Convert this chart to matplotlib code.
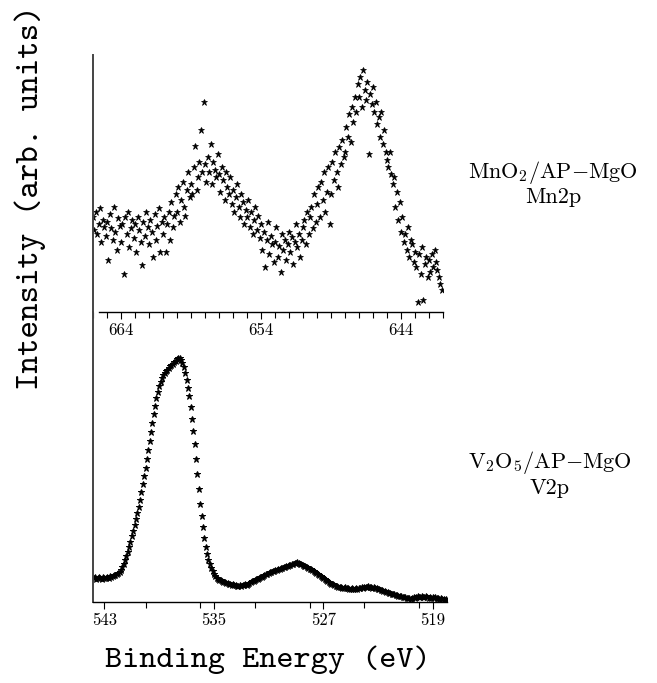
import numpy as np
import matplotlib
matplotlib.use("Agg")
import matplotlib.pyplot as plt
from matplotlib.ticker import FixedLocator, MultipleLocator

plt.rcParams['font.family'] = 'serif'
plt.rcParams['font.serif'] = ['cmr10', 'DejaVu Serif']
plt.rcParams['mathtext.fontset'] = 'cm'

# Mn2p spectrum, 666.0 -> 641.1 eV in 0.1 eV steps (arb. units)
mn_start, mn_end = 666.0, 641.1
mn_counts = [
    95, 82, 100, 78, 88, 104, 70, 92, 85, 76,
    90, 52, 98, 84, 72, 105, 80, 62, 94, 86,
    70, 88, 38, 95, 78, 100, 65, 84, 92, 74,
    88, 60, 95, 82, 70, 47, 90, 76, 100, 85,
    68, 92, 80, 55, 98, 72, 86, 104, 60, 90,
    78, 95, 60, 88, 100, 72, 110, 85, 96, 118,
    100, 125, 90, 112, 130, 105, 96, 122, 140, 115,
    128, 118, 145, 166, 122, 135, 150, 182, 140, 210,
    148, 130, 155, 140, 168, 128, 150, 142, 135, 158,
    138, 120, 145, 132, 112, 140, 125, 118, 135, 108,
    122, 100, 115, 128, 105, 95, 118, 110, 88, 102,
    95, 112, 85, 100, 78, 92, 105, 82, 96, 74,
    88, 62, 80, 45, 72, 90, 58, 76, 68, 50,
    70, 85, 55, 66, 40, 78, 62, 72, 52, 68,
    80, 60, 75, 48, 70, 88, 65, 78, 55, 72,
    85, 92, 68, 100, 78, 95, 105, 84, 118, 90,
    108, 125, 95, 130, 112, 140, 100, 120, 145, 88,
    118, 150, 132, 160, 140, 125, 165, 148, 172, 155,
    160, 185, 175, 198, 170, 205, 190, 215, 200, 228,
    215, 235, 205, 242, 222, 212, 230, 158, 218, 208,
    225, 200, 210, 188, 195, 175, 200, 168, 182, 160,
    152, 145, 160, 138, 128, 135, 105, 120, 92, 110,
    80, 95, 70, 78, 62, 85, 55, 72, 68, 50,
    60, 45, 10, 58, 38, 65, 12, 48, 55, 35,
    52, 40, 58, 45, 62, 50, 42, 35, 28, 22,
]

# V2p / O1s region, 543.8 -> 518.0 eV in 0.1 eV steps (arb. units)
v_start, v_end = 543.8, 518.0
v_counts = [
    24, 25, 23, 24, 25, 24, 23, 25, 24, 24,
    25, 24, 26, 25, 26, 27, 27, 28, 29, 30,
    32, 35, 38, 42, 46, 50, 55, 60, 66, 71,
    77, 83, 89, 95, 102, 110, 118, 126, 134, 143,
    152, 161, 170, 179, 188, 196, 204, 210, 216, 220,
    224, 227, 229, 231, 232, 234, 236, 237, 238, 240,
    241, 243, 244, 244, 242, 239, 235, 229, 222, 214,
    206, 195, 183, 171, 158, 143, 128, 113, 98, 86,
    75, 64, 55, 48, 42, 38, 34, 31, 28, 26,
    24, 23, 22, 22, 21, 20, 20, 19, 19, 18,
    18, 17, 18, 17, 17, 16, 16, 17, 16, 17,
    17, 18, 17, 18, 19, 20, 21, 21, 22, 23,
    23, 24, 25, 25, 26, 27, 28, 28, 29, 30,
    30, 31, 31, 32, 32, 33, 33, 34, 34, 35,
    35, 36, 36, 37, 37, 38, 38, 39, 39, 40,
    39, 38, 38, 37, 36, 36, 35, 34, 33, 33,
    32, 31, 30, 29, 28, 27, 26, 25, 24, 23,
    22, 21, 20, 19, 18, 18, 17, 16, 16, 15,
    15, 15, 14, 14, 15, 14, 14, 13, 13, 14,
    13, 13, 14, 13, 14, 14, 15, 14, 15, 15,
    15, 16, 15, 15, 14, 15, 14, 14, 13, 13,
    12, 12, 11, 11, 10, 10, 9, 9, 8, 8,
    8, 7, 7, 6, 6, 6, 5, 5, 5, 4,
    4, 4, 3, 4, 5, 4, 5, 6, 5, 5,
    6, 5, 5, 6, 5, 4, 5, 4, 5, 4,
    5, 4, 4, 3, 4, 3, 3, 2, 3,
]

mn_ticks = [664, 654, 644]
v_ticks = [543, 535, 527, 519]

mn_energy = np.linspace(mn_start, mn_end, len(mn_counts))
v_energy = np.linspace(v_start, v_end, len(v_counts))

W, H = 657, 683
fig = plt.figure(figsize=(W / 100, H / 100), dpi=100)

def px_axes(x0, y0, x1, y1):
    # axes rectangle given in pixel coords (origin top-left)
    return fig.add_axes([x0 / W, 1 - y1 / H, (x1 - x0) / W, (y1 - y0) / H])

ax1 = px_axes(93, 55, 443, 312)
ax2 = px_axes(93, 312, 447, 602)

ax1.plot(mn_energy, mn_counts, ls='none', marker='*', ms=4.6, color='black', mew=0.5)
ax2.plot(v_energy, v_counts, ls='none', marker='*', ms=5.0, color='black', mew=0.7)

ax1.set_xlim(666.0, 641.0)
ax1.set_ylim(0, 257)
ax2.set_xlim(543.84, 517.95)
ax2.set_ylim(0, 290)

for ax in (ax1, ax2):
    ax.set_facecolor('none')
    ax.spines['top'].set_visible(False)
    ax.spines['right'].set_visible(False)
    ax.spines['left'].set_linewidth(1.4)
    ax.spines['left'].set_color('#444444')
    ax.spines['bottom'].set_linewidth(1.0)
    ax.set_yticks([])
    ax.tick_params(axis='x', which='both', direction='out', width=0.8,
                   labelsize=12, pad=3)
    ax.tick_params(axis='x', which='major', length=5)
    ax.tick_params(axis='x', which='minor', length=4)

ax1.spines['bottom'].set_bounds(665.6, 641.0)
ax1.xaxis.set_major_locator(FixedLocator(mn_ticks))
ax1.set_xticklabels([str(t) for t in mn_ticks])
ax1.xaxis.set_minor_locator(MultipleLocator(1))
ax2.xaxis.set_major_locator(FixedLocator(v_ticks))
ax2.set_xticklabels([str(t) for t in v_ticks])
ax2.xaxis.set_minor_locator(MultipleLocator(4))

lab = dict(ha='center', va='center', fontsize=16)
fig.text(553 / W, 1 - 172 / H, r'MnO$_2$/AP$-$MgO', **lab)
fig.text(553 / W, 1 - 197 / H, 'Mn2p', **lab)
fig.text(550 / W, 1 - 462 / H, r'V$_2$O$_5$/AP$-$MgO', **lab)
fig.text(550 / W, 1 - 488 / H, 'V2p', **lab)

fig.text(268 / W, 1 - 660 / H, 'Binding Energy (eV)', ha='center', va='center',
         fontsize=23.5, family='cmtt10')
fig.text(30 / W, 1 - 198 / H, 'Intensity (arb. units)', ha='center', va='center',
         rotation=90, fontsize=24, family='cmtt10')

plt.savefig('out.png', dpi=100)
